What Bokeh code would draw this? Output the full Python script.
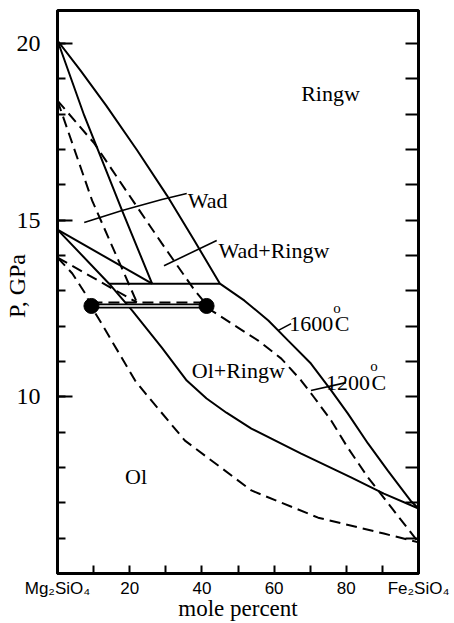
from bokeh.plotting import figure
from bokeh.models import Range1d, LinearAxis, FixedTicker, Label
from bokeh.embed import file_html
from bokeh.resources import INLINE

# ---------------- data (mole percent Fe2SiO4, pressure GPa) ----------------
# 1600 C (solid)
ringw_1600_x = [0, 6.4, 13.5, 22.1, 30.3, 37.9, 45.0, 51.8, 58.4, 63.9, 70.2, 75.8, 80.4, 86.0, 91.5, 97.8, 100]
ringw_1600_p = [20.08, 19.23, 18.24, 16.97, 15.70, 14.42, 13.20, 12.72, 12.16, 11.59, 10.94, 10.18, 9.53, 8.68, 7.91, 7.06, 6.84]
wad_1600_x = [0, 7.4, 17.9, 26.2]
wad_1600_p = [20.08, 17.96, 15.27, 13.20]
wadol_1600_x = [0, 26.2]
wadol_1600_p = [14.73, 13.20]
ol_1600_x = [0, 14.3, 20.7, 28.9, 35.8, 41.3, 46.8, 53.7, 67.5, 81.3, 90.4, 100]
ol_1600_p = [14.73, 13.20, 12.44, 11.39, 10.46, 9.95, 9.55, 9.10, 8.39, 7.72, 7.26, 6.84]
iso_1600_x = [14.3, 45.0]
iso_1600_p = [13.20, 13.20]

# 1200 C (dashed)
wad_1200_x = [0, 9.6, 22.0]
wad_1200_p = [18.38, 15.55, 12.67]
wadol_1200_x = [0, 22.0]
wadol_1200_p = [13.94, 12.67]
ringw_1200_x = [0, 10.2, 21.2, 28.9, 38.0, 40.8, 42.7, 49.0, 55.6, 62.0, 67.5, 71.1, 75.8, 80.4, 86.0, 89.5, 100]
ringw_1200_p = [18.38, 17.17, 15.50, 14.34, 13.01, 12.67, 12.44, 12.02, 11.59, 11.08, 10.46, 9.98, 9.33, 8.56, 7.72, 7.26, 5.88]
ol_1200_x = [0, 4.1, 7.7, 9.4, 12.4, 21.5, 25.3, 35.3, 53.7, 72.2, 90.4, 100]
ol_1200_p = [13.94, 13.49, 12.92, 12.55, 12.04, 10.46, 9.98, 8.76, 7.35, 6.58, 6.13, 5.88]
iso_1200_x = [9.4, 40.8]
iso_1200_p = [12.67, 12.67]

# experimental coexisting compositions
dot_x = [9.4, 41.3]
dot_p = [12.57, 12.57]

# label leader lines
lead_wad_x = [7.4, 17.9, 28.9, 35.8]
lead_wad_p = [14.93, 15.27, 15.58, 15.75]
lead_wr_x = [29.5, 44.1]
lead_wr_p = [13.71, 14.42]
lead_1600_x = [61.2, 64.7]
lead_1600_p = [11.88, 12.07]
lead_1200_x = [70.2, 79.9]
lead_1200_p = [10.18, 10.40]

x_major = [0, 20, 40, 60, 80, 100]
x_minor = [10, 30, 50, 70, 90]
x_tick_labels = {0: "Mg\u2082SiO\u2084", 20: "20", 40: "40", 60: "60", 80: "80", 100: "Fe\u2082SiO\u2084"}
y_major = [10, 15, 20]
y_minor = list(range(5, 21))
y_labels = {10: "10", 15: "15", 20: "20"}

SERIF = "Liberation Serif"
SANS = "Liberation Sans"

p = figure(width=454, height=623, x_range=Range1d(0, 100), y_range=Range1d(5, 20.93),
           output_backend="svg", toolbar_location=None,
           min_border_left=55, min_border_right=36, min_border_top=10, min_border_bottom=50)
p.grid.visible = False
p.outline_line_color = "black"
p.outline_line_width = 3
p.outline_line_alpha = 1.0
p.background_fill_color = "white"
p.border_fill_color = "white"

xa = p.xaxis[0]
xa.ticker = FixedTicker(ticks=x_major, minor_ticks=x_minor)
xa.major_label_overrides = x_tick_labels
xa.major_tick_in = 8
xa.major_tick_out = 0
xa.minor_tick_in = 8
xa.minor_tick_out = 0
xa.axis_line_width = 3
xa.major_tick_line_width = 2
xa.minor_tick_line_width = 2
xa.major_label_standoff = 5
xa.major_label_text_font = SANS
xa.major_label_text_font_size = "17px"
xa.major_label_text_color = "black"
xa.axis_label = "mole percent"
xa.axis_label_text_font = SERIF
xa.axis_label_text_font_size = "23px"
xa.axis_label_text_font_style = "normal"
xa.axis_label_text_color = "black"
xa.axis_label_standoff = -5

ya = p.yaxis[0]
ya.ticker = FixedTicker(ticks=y_major, minor_ticks=y_minor)
ya.major_label_overrides = y_labels
ya.major_tick_in = 15
ya.major_tick_out = 0
ya.minor_tick_in = 8
ya.minor_tick_out = 0
ya.axis_line_width = 3
ya.major_tick_line_width = 2
ya.minor_tick_line_width = 2
ya.major_label_standoff = 17
ya.major_label_text_font = SERIF
ya.major_label_text_font_size = "24px"
ya.major_label_text_color = "black"
ya.axis_label = "\u00a0\u00a0P, GPa"
ya.axis_label_text_font = SERIF
ya.axis_label_text_font_size = "24px"
ya.axis_label_text_font_style = "normal"
ya.axis_label_text_color = "black"
ya.axis_label_standoff = -16

ra = LinearAxis(ticker=FixedTicker(ticks=[], minor_ticks=y_minor), major_tick_in=0, major_tick_out=0,
                minor_tick_in=13, minor_tick_out=0, axis_line_width=3, minor_tick_line_width=2)
p.add_layout(ra, "right")

DASH = "11 6"
# solid 1600 C
for xs, ps in [(ringw_1600_x, ringw_1600_p), (wad_1600_x, wad_1600_p),
               (wadol_1600_x, wadol_1600_p), (ol_1600_x, ol_1600_p), (iso_1600_x, iso_1600_p)]:
    p.line(xs, ps, line_color="black", line_width=2)
# dashed 1200 C
for xs, ps in [(wad_1200_x, wad_1200_p), (wadol_1200_x, wadol_1200_p),
               (ringw_1200_x, ringw_1200_p), (ol_1200_x, ol_1200_p), (iso_1200_x, iso_1200_p)]:
    p.line(xs, ps, line_color="black", line_width=2, line_dash=DASH)

# tie line between the dots (double line)
p.line(dot_x, dot_p, line_color="black", line_width=5)
p.line(dot_x, dot_p, line_color="white", line_width=1.5)
p.scatter(dot_x, dot_p, size=15, color="black")

# leaders
for xs, ps in [(lead_wad_x, lead_wad_p), (lead_wr_x, lead_wr_p),
               (lead_1600_x, lead_1600_p), (lead_1200_x, lead_1200_p)]:
    p.line(xs, ps, line_color="black", line_width=1.6)

def lab(x, y, t, size="22px", font=SERIF, **kw):
    p.add_layout(Label(x=x, y=y, text=t, text_font=font, text_font_size=size,
                       text_color="black", text_baseline="alphabetic", **kw))

lab(67.5, 18.58, "Ringw")
lab(36.1, 15.55, "Wad")
lab(44.6, 14.14, "Wad+Ringw")
lab(64.2, 12.07, "1600")
lab(76.8, 12.07, "C")
lab(76.4, 12.52, "o", size="15px")
lab(74.4, 10.40, "1200")
lab(87.0, 10.40, "C")
lab(86.6, 10.86, "o", size="15px")
lab(37.2, 10.74, "Ol+Ringw")
lab(18.7, 7.74, "Ol")

open("out.html", "w").write(file_html(p, INLINE))
